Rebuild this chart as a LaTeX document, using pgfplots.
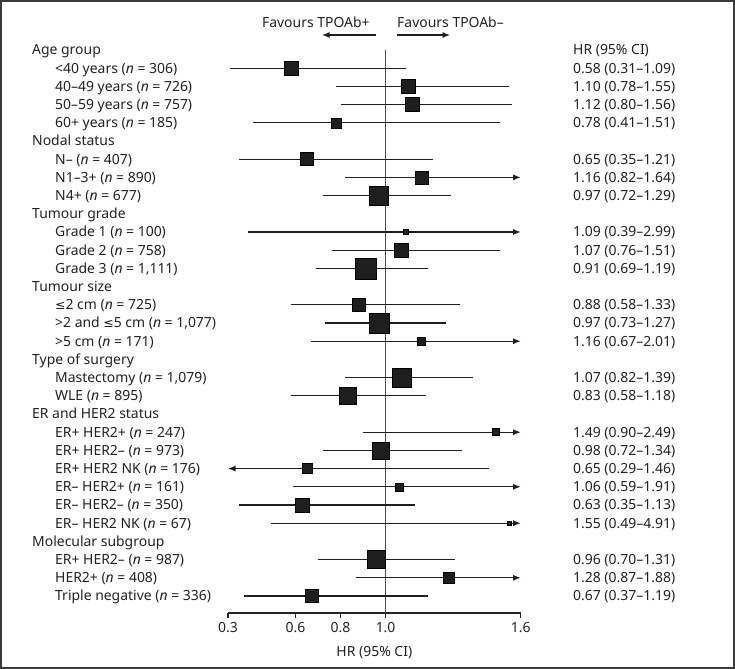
\documentclass[border=0pt]{standalone}
\usepackage{fontspec}
\setmainfont{Noto Sans}
\newfontfamily\djv{DejaVu Sans}
\usepackage{pgfplots}
\pgfplotsset{compat=1.18}
\usepackage{pgfplotstable}
\usetikzlibrary{arrows.meta}
\definecolor{txt}{HTML}{222222}
\definecolor{sqc}{HTML}{1E1E1E}
\definecolor{frm}{HTML}{3A3A3A}

\pgfplotstableread{
y hr sz
-1 0.58 7
-2 1.10 7
-3 1.12 7
-4 0.78 5
-6 0.65 6.5
-7 1.16 6.5
-8 0.97 9.5
-10 1.09 2.5
-11 1.07 7
-12 0.91 10.5
-14 0.88 6.5
-15 0.97 10
-16 1.16 4
-18 1.07 9.5
-19 0.83 8.5
-21 1.49 3.5
-22 0.98 8.5
-23 0.65 5
-24 1.06 4
-25 0.63 7
-26 1.55 2
-28 0.96 9
-29 1.28 5.5
-30 0.67 6.5
}\sqdata

\newcommand{\fs}{\fontsize{14}{16}\selectfont}
\newcommand{\lesym}{{\djv\fontsize{12.5}{16}\selectfont ≤}}
\pgfplotsset{
  ci/.style={draw=black!88, line width=1.2bp, no markers, forget plot},
  arr/.style={-{Latex[length=7.5bp,width=6bp]}},
}

\begin{document}
\begin{tikzpicture}[
  hdr/.style={anchor=base west, inner sep=0pt, yshift=-5bp, text=txt, font=\fs},
]
\begin{axis}[
  scale only axis,
  width=292.7bp, height=562.9bp,
  xmin=0.3, xmax=1.6, ymin=-30.93, ymax=0,
  axis x line*=bottom, axis y line=none,
  x axis line style={line width=1.2bp, draw=black!85, -},
  xtick={0.3,0.6,0.8,1.0,1.6},
  xticklabels={0.3,0.6,0.8,1.0,1.6},
  tick align=outside, major tick length=5bp,
  tick style={line width=1.2bp, draw=black!85},
  xticklabel style={font=\fs, text=txt, yshift=-1bp},
  xlabel={HR (95\% CI)},
  xlabel style={font=\fs, text=txt, yshift=-7bp},
  clip=false,
]
% reference line
\addplot[draw=black!70, line width=1.2bp, forget plot] coordinates {(1,0) (1,-30.93)};

% confidence intervals
\addplot[ci] coordinates {(0.31,-1) (1.09,-1)};
\addplot[ci] coordinates {(0.78,-2) (1.55,-2)};
\addplot[ci] coordinates {(0.80,-3) (1.56,-3)};
\addplot[ci] coordinates {(0.41,-4) (1.51,-4)};
\addplot[ci] coordinates {(0.35,-6) (1.21,-6)};
\addplot[ci,arr] coordinates {(0.82,-7) (1.6,-7)};
\addplot[ci] coordinates {(0.72,-8) (1.29,-8)};
\addplot[ci,arr] coordinates {(0.39,-10) (1.6,-10)};
\addplot[ci] coordinates {(0.76,-11) (1.51,-11)};
\addplot[ci] coordinates {(0.69,-12) (1.19,-12)};
\addplot[ci] coordinates {(0.58,-14) (1.33,-14)};
\addplot[ci] coordinates {(0.73,-15) (1.27,-15)};
\addplot[ci,arr] coordinates {(0.67,-16) (1.6,-16)};
\addplot[ci] coordinates {(0.82,-18) (1.39,-18)};
\addplot[ci] coordinates {(0.58,-19) (1.18,-19)};
\addplot[ci,arr] coordinates {(0.90,-21) (1.6,-21)};
\addplot[ci] coordinates {(0.72,-22) (1.34,-22)};
\addplot[ci,arr] coordinates {(1.46,-23) (0.3,-23)};
\addplot[ci,arr] coordinates {(0.59,-24) (1.6,-24)};
\addplot[ci] coordinates {(0.35,-25) (1.13,-25)};
\addplot[ci,arr] coordinates {(0.49,-26) (1.6,-26)};
\addplot[ci] coordinates {(0.70,-28) (1.31,-28)};
\addplot[ci,arr] coordinates {(0.87,-29) (1.6,-29)};
\addplot[ci] coordinates {(0.37,-30) (1.19,-30)};

% squares
\addplot[only marks, mark=square*, scatter, point meta=\thisrow{sz},
  scatter/use mapped color={draw=none, fill=sqc},
  visualization depends on={\thisrow{sz} \as \msize},
  scatter/@pre marker code/.append style={/tikz/mark size=\msize bp}]
  table[x=hr, y=y] {\sqdata};

% favours
\node[font=\fs, text=txt, anchor=base east, inner sep=0pt, yshift=-5bp] at (axis cs:0.930,1.4835) {Favours TPOAb+};
\node[font=\fs, text=txt, anchor=base west, inner sep=0pt, yshift=-5bp] at (axis cs:1.0508,1.4835) {Favours TPOAb–};
\draw[black!88, line width=1.2bp, -{Latex[length=7.5bp,width=6bp]}] (axis cs:0.9575,0.824) -- (axis cs:0.7176,0.824);
\draw[black!88, line width=1.2bp, -{Latex[length=7.5bp,width=6bp]}] (axis cs:1.0508,0.824) -- (axis cs:1.2862,0.824);

% left labels
\def\xa{-0.5705}
\def\xb{-0.4684}
\node[hdr] at (axis cs:\xa,0) {Age group};
\node[hdr] at (axis cs:\xb,-1) {<40 years (\textit{n} = 306)};
\node[hdr] at (axis cs:\xb,-2) {40–49 years (\textit{n} = 726)};
\node[hdr] at (axis cs:\xb,-3) {50–59 years (\textit{n} = 757)};
\node[hdr] at (axis cs:\xb,-4) {60+ years (\textit{n} = 185)};
\node[hdr] at (axis cs:\xa,-5) {Nodal status};
\node[hdr] at (axis cs:\xb,-6) {N– (\textit{n} = 407)};
\node[hdr] at (axis cs:\xb,-7) {N1–3+ (\textit{n} = 890)};
\node[hdr] at (axis cs:\xb,-8) {N4+ (\textit{n} = 677)};
\node[hdr] at (axis cs:\xa,-9) {Tumour grade};
\node[hdr] at (axis cs:\xb,-10) {Grade 1 (\textit{n} = 100)};
\node[hdr] at (axis cs:\xb,-11) {Grade 2 (\textit{n} = 758)};
\node[hdr] at (axis cs:\xb,-12) {Grade 3 (\textit{n} = 1,111)};
\node[hdr] at (axis cs:\xa,-13) {Tumour size};
\node[hdr] at (axis cs:\xb,-14) {\lesym2 cm (\textit{n} = 725)};
\node[hdr] at (axis cs:\xb,-15) {>2 and \lesym5 cm (\textit{n} = 1,077)};
\node[hdr] at (axis cs:\xb,-16) {>5 cm (\textit{n} = 171)};
\node[hdr] at (axis cs:\xa,-17) {Type of surgery};
\node[hdr] at (axis cs:\xb,-18) {Mastectomy (\textit{n} = 1,079)};
\node[hdr] at (axis cs:\xb,-19) {WLE (\textit{n} = 895)};
\node[hdr] at (axis cs:\xa,-20) {ER and HER2 status};
\node[hdr] at (axis cs:\xb,-21) {ER+ HER2+ (\textit{n} = 247)};
\node[hdr] at (axis cs:\xb,-22) {ER+ HER2– (\textit{n} = 973)};
\node[hdr] at (axis cs:\xb,-23) {ER+ HER2 NK (\textit{n} = 176)};
\node[hdr] at (axis cs:\xb,-24) {ER– HER2+ (\textit{n} = 161)};
\node[hdr] at (axis cs:\xb,-25) {ER– HER2– (\textit{n} = 350)};
\node[hdr] at (axis cs:\xb,-26) {ER– HER2 NK (\textit{n} = 67)};
\node[hdr] at (axis cs:\xa,-27) {Molecular subgroup};
\node[hdr] at (axis cs:\xb,-28) {ER+ HER2– (\textit{n} = 987)};
\node[hdr] at (axis cs:\xb,-29) {HER2+ (\textit{n} = 408)};
\node[hdr] at (axis cs:\xb,-30) {Triple negative (\textit{n} = 336)};

% right column
\def\xr{1.8323}
\node[hdr] at (axis cs:\xr,0) {HR (95\% CI)};
\node[hdr] at (axis cs:\xr,-1) {0.58 (0.31–1.09)};
\node[hdr] at (axis cs:\xr,-2) {1.10 (0.78–1.55)};
\node[hdr] at (axis cs:\xr,-3) {1.12 (0.80–1.56)};
\node[hdr] at (axis cs:\xr,-4) {0.78 (0.41–1.51)};
\node[hdr] at (axis cs:\xr,-6) {0.65 (0.35–1.21)};
\node[hdr] at (axis cs:\xr,-7) {1.16 (0.82–1.64)};
\node[hdr] at (axis cs:\xr,-8) {0.97 (0.72–1.29)};
\node[hdr] at (axis cs:\xr,-10) {1.09 (0.39–2.99)};
\node[hdr] at (axis cs:\xr,-11) {1.07 (0.76–1.51)};
\node[hdr] at (axis cs:\xr,-12) {0.91 (0.69–1.19)};
\node[hdr] at (axis cs:\xr,-14) {0.88 (0.58–1.33)};
\node[hdr] at (axis cs:\xr,-15) {0.97 (0.73–1.27)};
\node[hdr] at (axis cs:\xr,-16) {1.16 (0.67–2.01)};
\node[hdr] at (axis cs:\xr,-18) {1.07 (0.82–1.39)};
\node[hdr] at (axis cs:\xr,-19) {0.83 (0.58–1.18)};
\node[hdr] at (axis cs:\xr,-21) {1.49 (0.90–2.49)};
\node[hdr] at (axis cs:\xr,-22) {0.98 (0.72–1.34)};
\node[hdr] at (axis cs:\xr,-23) {0.65 (0.29–1.46)};
\node[hdr] at (axis cs:\xr,-24) {1.06 (0.59–1.91)};
\node[hdr] at (axis cs:\xr,-25) {0.63 (0.35–1.13)};
\node[hdr] at (axis cs:\xr,-26) {1.55 (0.49–4.91)};
\node[hdr] at (axis cs:\xr,-28) {0.96 (0.70–1.31)};
\node[hdr] at (axis cs:\xr,-29) {1.28 (0.87–1.88)};
\node[hdr] at (axis cs:\xr,-30) {0.67 (0.37–1.19)};

% frame
\draw[frm, line width=2bp] (axis cs:-0.7082,2.6923) rectangle (axis cs:2.5473,-33.956);
\end{axis}
\end{tikzpicture}
\end{document}
